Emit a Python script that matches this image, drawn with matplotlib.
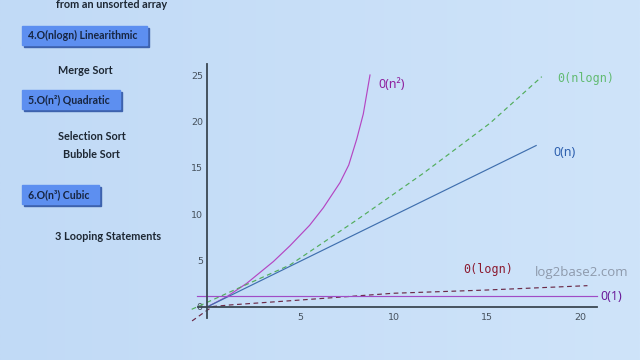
import numpy as np
import matplotlib
matplotlib.use("Agg")
import matplotlib.pyplot as plt
from matplotlib.patches import Rectangle

###
### Data
###
n2_x = [0, 1.06, 2.13, 3.56, 4.45, 5.5, 6.24, 7.13, 7.6, 8.03, 8.38, 8.74]
n2_y = [0, 1.11, 2.55, 4.9, 6.6, 8.8, 10.7, 13.4, 15.3, 18.1, 20.8, 25.0]

nlogn_x = [-0.82, 1.86, 4.45, 8.03, 11.6, 15.17, 17.95]
nlogn_y = [-0.25, 2.19, 4.53, 9.38, 14.41, 19.8, 24.82]

n_x = [0, 17.65]
n_y = [0, 17.4]

logn_x = [-0.8, -0.1, 0.3, 1.23, 4.99, 9.99, 15.0, 20.4]
logn_y = [-1.5, -0.5, 0.05, 0.22, 0.75, 1.48, 1.83, 2.3]

const_x = [-0.55, 20.9]
const_y = [1.19, 1.19]

xticks = [5, 10, 15, 20]
yticks = [0, 5, 10, 15, 20, 25]

# left hand side notes: (text, x px, y px)
notes = [("from an unsorted array", 112, 4),
         ("Merge Sort", 85, 71),
         ("Selection Sort", 92, 137),
         ("Bubble Sort", 91, 155),
         ("3 Looping Statements", 108, 237)]
# boxes: (text, left px, top px, right px, bottom px)
boxes = [("4.O(nlogn) Linearithmic", 22, 26, 147, 45),
         ("5.O(n²) Quadratic", 22, 90, 120, 109),
         ("6.O(n³) Cubic", 22, 185, 99, 204)]

W, H = 640, 360
bg_left  = np.array([193, 218, 246]) / 255
bg_right = np.array([207, 228, 250]) / 255

###
### Figure and background
###
fig = plt.figure(figsize=(6.4, 3.6), dpi=100)
bg = fig.add_axes([0, 0, 1, 1])
t = np.linspace(0, 1, 256)
grad = bg_left[None, :] * (1 - t[:, None]) + bg_right[None, :] * t[:, None]
bg.imshow(grad[None, :, :], aspect="auto", extent=[0, 1, 0, 1])
bg.set_axis_off()

###
### Plot axes (data coordinates mapped onto the whole figure)
###
x0_px, sx = 207.0, 18.65
y0_px, sy = 307.0, 9.28
ax = fig.add_axes([0, 0, 1, 1])
ax.set_xlim(-x0_px / sx, (W - x0_px) / sx)
ax.set_ylim(-(H - y0_px) / sy, y0_px / sy)
ax.patch.set_visible(False)

for s in ["top", "right"]:
    ax.spines[s].set_visible(False)
ax.spines["left"].set_position(("data", 0))
ax.spines["bottom"].set_position(("data", 0))
ax.spines["left"].set_bounds(-1.2, 26.2)
ax.spines["bottom"].set_bounds(-0.5, 20.9)
for s in ["left", "bottom"]:
    ax.spines[s].set_color("#3a4752")
    ax.spines[s].set_linewidth(1.3)

ax.set_xticks(xticks)
ax.set_yticks(yticks)
ax.tick_params(length=0, labelsize=6.8, labelcolor="#46515d")
ax.tick_params(axis="x", pad=4)
ax.tick_params(axis="y", pad=3)

lw = 0.85
ax.plot(n2_x, n2_y, color="#b446c2", lw=lw)
ax.plot(nlogn_x, nlogn_y, color="#52ad5c", lw=lw, ls=(0, (4, 3)))
ax.plot(n_x, n_y, color="#3f6fae", lw=lw)
ax.plot(logn_x, logn_y, color="#6b2a48", lw=lw, ls=(0, (4, 3)))
ax.plot(const_x, const_y, color="#a04cc6", lw=lw)

ax.text(9.17, 24.0, "0(n²)", color="#8e1f9e", fontsize=9,
        family="Noto Sans", va="center", ha="left")
ax.text(18.77, 24.57, "0(nlogn)", color="#62bb72", fontsize=8.5,
        family="DejaVu Sans Mono", va="center", ha="left")
ax.text(18.55, 16.7, "0(n)", color="#2c5fae", fontsize=9,
        family="Noto Sans", va="center", ha="left")
ax.text(13.73, 3.99, "0(logn)", color="#8b1a30", fontsize=8.5,
        family="DejaVu Sans Mono", va="center", ha="left")
ax.text(21.07, 1.08, "0(1)", color="#6a1b9a", fontsize=9,
        family="Noto Sans", va="center", ha="left")
ax.text(17.59, 3.77, "log2base2.com", color="#8e9aac", fontsize=9.5,
        family="Open Sans", va="center", ha="left")

###
### Left hand side notes and boxes
###
for txt, px, py in notes:
    fig.text(px / W, 1 - py / H, txt, ha="center", va="center",
             fontsize=7.8, family="Lato", weight="bold", color="#1d2733")

for txt, l, tp, r, b in boxes:
    fig.patches.append(Rectangle(((l + 2) / W, 1 - (b + 2) / H), (r - l) / W,
                                 (b - tp) / H, transform=fig.transFigure,
                                 color="#3d62ad", zorder=1))
    fig.patches.append(Rectangle((l / W, 1 - b / H), (r - l) / W,
                                 (b - tp) / H, transform=fig.transFigure,
                                 color="#5d8ff0", zorder=2))
    fig.text((l + 6) / W, 1 - (tp + b) / 2 / H, txt, ha="left", va="center",
             fontsize=7.6, family="Lato", weight="bold", color="#172540",
             zorder=3)

fig.savefig("out.png", dpi=100)
